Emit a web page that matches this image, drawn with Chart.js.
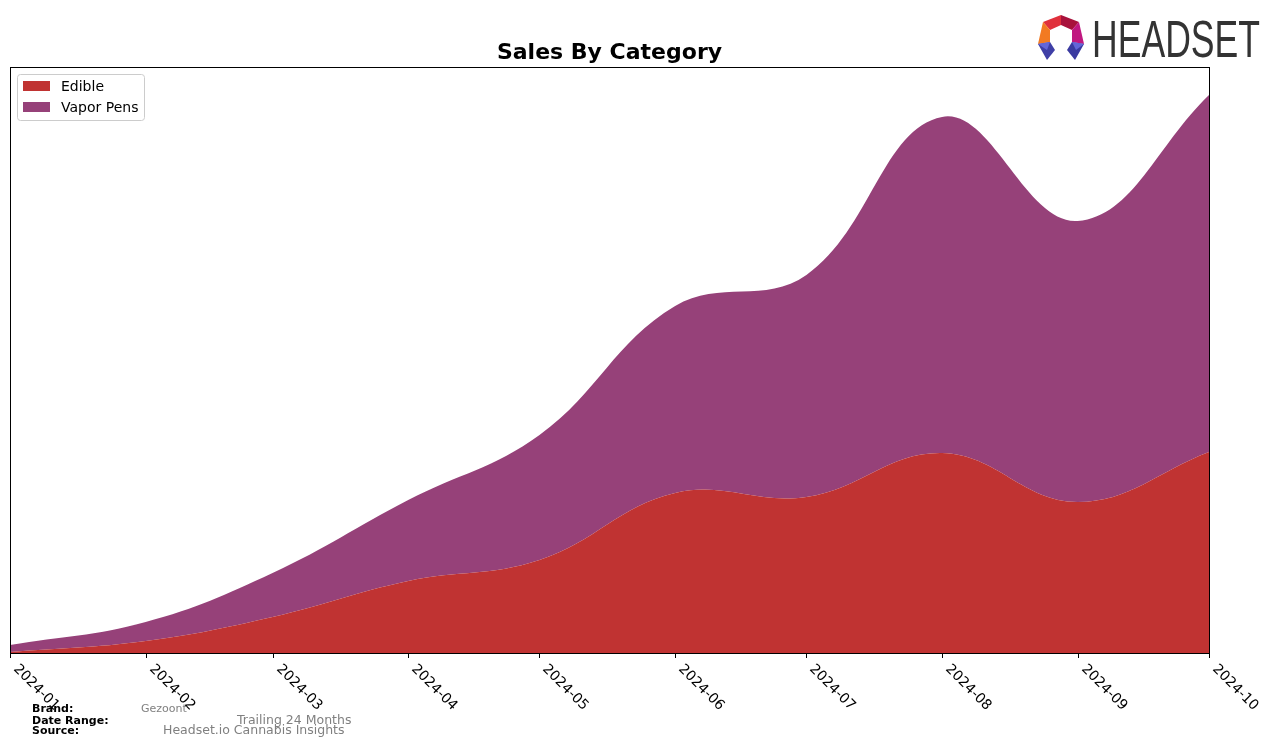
<!DOCTYPE html>
<html>
<head>
<meta charset="utf-8">
<script src="https://cdn.jsdelivr.net/npm/chart.js@4"></script>
<style>
  html, body { margin: 0; padding: 0; background: #fff; }
  #wrap { width: 1276px; height: 747px; }
</style>
</head>
<body>
<div id="wrap"><canvas id="salesChart" width="1276" height="747"></canvas></div>
<script>
// monthly sales by category (arbitrary units)
const months = ['2024-01', '2024-02', '2024-03', '2024-04', '2024-05', '2024-06', '2024-07', '2024-08', '2024-09', '2024-10'];
const edible = [1, 12, 36, 72, 93, 160, 156, 200, 151, 201];
const vaporPens = [7, 19, 44, 81, 125, 187, 222, 336, 281, 357];

const COLORS = {
  edible: 'rgb(192, 51, 50)',
  vapor: 'rgb(150, 65, 121)',
  frame: '#000',
  footerGray: '#808080'
};
const FONT = '"DejaVu Sans", sans-serif';

// month start -> days since the first month, so spacing follows the calendar
const dayOf = m => (Date.parse(m + '-01T00:00:00Z') - Date.parse(months[0] + '-01T00:00:00Z')) / 86400000;
const xDays = months.map(dayOf);
const totals = edible.map((v, i) => v + vaporPens[i]);

const decorPlugin = {
  id: 'decor',
  afterDraw(chart) {
    const ctx = chart.ctx;
    const area = chart.chartArea;
    const xScale = chart.scales.x;
    ctx.save();

    // axes frame
    ctx.strokeStyle = COLORS.frame;
    ctx.lineWidth = 1;
    ctx.strokeRect(Math.round(area.left) + 0.5, Math.round(area.top) + 0.5,
      Math.round(area.right - area.left), Math.round(area.bottom - area.top));

    // x ticks + rotated labels
    ctx.fillStyle = '#000';
    ctx.font = '14px ' + FONT;
    months.forEach((m, i) => {
      const px = Math.round(xScale.getPixelForValue(xDays[i])) + 0.5;
      ctx.beginPath();
      ctx.moveTo(px, area.bottom);
      ctx.lineTo(px, area.bottom + 5);
      ctx.stroke();
      ctx.save();
      ctx.translate(px + 10, area.bottom + 9);
      ctx.rotate(Math.PI / 4);
      ctx.textAlign = 'left';
      ctx.textBaseline = 'top';
      ctx.fillText(m, 0, 0);
      ctx.restore();
    });

    // title
    ctx.font = 'bold 22px ' + FONT;
    ctx.textAlign = 'center';
    ctx.textBaseline = 'alphabetic';
    ctx.fillStyle = '#000';
    ctx.fillText('Sales By Category', (area.left + area.right) / 2, 59);

    // legend
    const lx = 17, ly = 74, lw = 127, lh = 46;
    ctx.fillStyle = 'rgba(255,255,255,0.8)';
    ctx.strokeStyle = '#cccccc';
    ctx.beginPath();
    ctx.roundRect(lx + 0.5, ly + 0.5, lw, lh, 3);
    ctx.fill();
    ctx.stroke();
    const items = [['Edible', COLORS.edible], ['Vapor Pens', COLORS.vapor]];
    ctx.font = '14px ' + FONT;
    ctx.textAlign = 'left';
    ctx.textBaseline = 'middle';
    items.forEach(([label, color], i) => {
      const cy = 86 + i * 21;
      ctx.fillStyle = color;
      ctx.fillRect(23, cy - 5, 27, 10);
      ctx.fillStyle = '#000';
      ctx.fillText(label, 61, cy + 1);
    });

    // footer
    ctx.textBaseline = 'alphabetic';
    ctx.fillStyle = '#000';
    ctx.font = 'bold 11px ' + FONT;
    ctx.fillText('Brand:', 32, 712);
    ctx.fillText('Date Range:', 32, 724);
    ctx.fillText('Source:', 32, 734);
    ctx.fillStyle = COLORS.footerGray;
    ctx.font = '11px ' + FONT;
    ctx.fillText('Gezoont', 141, 712);
    ctx.font = '12.5px ' + FONT;
    ctx.fillText('Trailing 24 Months', 237, 724);
    ctx.fillText('Headset.io Cannabis Insights', 163, 734);

    drawLogo(ctx);
    ctx.restore();
  }
};

function drawLogo(ctx) {
  const poly = (pts, color) => {
    ctx.fillStyle = color;
    ctx.beginPath();
    pts.forEach(([x, y], i) => (i ? ctx.lineTo(x, y) : ctx.moveTo(x, y)));
    ctx.closePath();
    ctx.fill();
  };
  poly([[1043, 22], [1061, 15], [1061, 25], [1050, 30]], '#e0303c');
  poly([[1061, 15], [1079, 22], [1072, 30], [1061, 25]], '#a8123c');
  poly([[1043, 22], [1050, 30], [1050, 42], [1038, 44]], '#f27a22');
  poly([[1079, 22], [1084, 44], [1072, 42], [1072, 30]], '#c01880');
  poly([[1038, 44], [1050, 42], [1055, 50], [1047, 60]], '#3f3fa6');
  poly([[1072, 42], [1084, 44], [1075, 60], [1067, 50]], '#3a3aa0');
  poly([[1038, 44], [1050, 42], [1047, 50]], '#6366d8');
  poly([[1072, 42], [1084, 44], [1076, 50]], '#6366d8');

  ctx.save();
  ctx.fillStyle = '#333333';
  ctx.font = '51px "Liberation Sans", "DejaVu Sans", sans-serif';
  ctx.textBaseline = 'alphabetic';
  ctx.textAlign = 'left';
  const w = ctx.measureText('HEADSET').width;
  ctx.translate(1092, 57);
  ctx.scale(168 / w, 1);
  ctx.fillText('HEADSET', 0, 0);
  ctx.restore();
}

new Chart(document.getElementById('salesChart').getContext('2d'), {
  type: 'line',
  data: {
    datasets: [
      {
        label: 'Edible',
        data: months.map((m, i) => ({ x: xDays[i], y: edible[i] })),
        backgroundColor: COLORS.edible,
        borderColor: COLORS.edible,
        borderWidth: 0,
        fill: 'origin',
        pointRadius: 0
      },
      {
        label: 'Vapor Pens',
        data: months.map((m, i) => ({ x: xDays[i], y: vaporPens[i] })),
        backgroundColor: COLORS.vapor,
        borderColor: COLORS.vapor,
        borderWidth: 0,
        fill: '-1',
        pointRadius: 0
      }
    ]
  },
  options: {
    responsive: false,
    animation: false,
    elements: { line: { tension: 0.4 } },
    layout: { padding: { left: 10, right: 67, top: 67, bottom: 94 } },
    plugins: { legend: { display: false }, tooltip: { enabled: false }, title: { display: false } },
    scales: {
      x: { type: 'linear', display: false, min: xDays[0], max: xDays[xDays.length - 1] },
      y: { display: false, stacked: true, min: 0, max: Math.max(...totals) * 1.05 }
    }
  },
  plugins: [decorPlugin]
});
</script>
</body>
</html>
